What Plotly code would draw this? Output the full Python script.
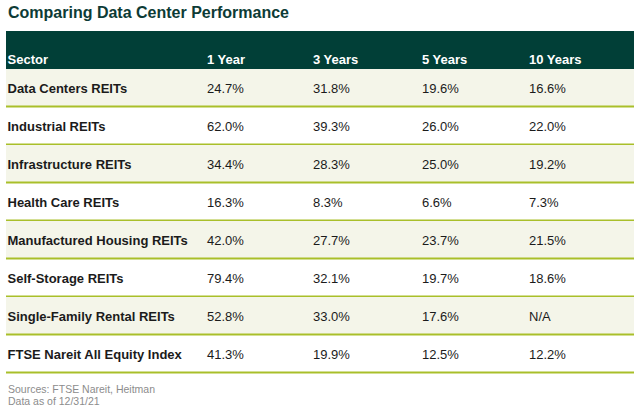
import plotly.graph_objects as go

# ---- data ----
title = "Comparing Data Center Performance"
headers = ["Sector", "1 Year", "3 Years", "5 Years", "10 Years"]
sectors = ["Data Centers REITs", "Industrial REITs", "Infrastructure REITs",
           "Health Care REITs", "Manufactured Housing REITs", "Self-Storage REITs",
           "Single-Family Rental REITs", "FTSE Nareit All Equity Index"]
one_year = [24.7, 62.0, 34.4, 16.3, 42.0, 79.4, 52.8, 41.3]
three_years = [31.8, 39.3, 28.3, 8.3, 27.7, 32.1, 33.0, 19.9]
five_years = [19.6, 26.0, 25.0, 6.6, 23.7, 19.7, 17.6, 12.5]
ten_years = [16.6, 22.0, 19.2, 7.3, 21.5, 18.6, None, 12.2]
notes = ["Sources: FTSE Nareit, Heitman", "Data as of 12/31/21"]

# ---- layout constants (axis units = window pixels) ----
W, H = 640, 411
col_x = [7.5, 207, 313, 422, 529]
left, right = 6, 634
head_top, head_bot = 31, 69
row_h = 38
TEXT_DY = 1.5
FONT = "Arial, Liberation Sans, sans-serif"
HEAD_BG = "#013f37"
CREAM = "#f4f5e9"
LINE = "#a9bf2a"
TXT = "#1b1b1b"

def fmt(v):
    return "N/A" if v is None else f"{v:.1f}%"

fig = go.Figure()
shapes = []
shapes.append(dict(type="rect", xref="x", yref="y", x0=left, x1=right,
                   y0=head_top, y1=head_bot, fillcolor=HEAD_BG, line_width=0, layer="below"))
row_centers = []
for i in range(len(sectors)):
    y0 = head_bot + i * row_h
    y1 = y0 + row_h
    row_centers.append((y0 + y1) / 2 + TEXT_DY)
    if i % 2 == 0:
        shapes.append(dict(type="rect", xref="x", yref="y", x0=left, x1=right,
                           y0=y0, y1=y1 - 0.5, fillcolor=CREAM, line_width=0, layer="below"))
    shapes.append(dict(type="line", xref="x", yref="y", x0=left, x1=right,
                       y0=y1 - 0.5, y1=y1 - 0.5, line=dict(color=LINE, width=2), layer="below"))

fig.add_trace(go.Scatter(x=col_x, y=[59.5 + TEXT_DY] * len(headers), text=headers, mode="text",
                         textposition="middle right", hoverinfo="skip",
                         textfont=dict(family=FONT, size=13, color="white", weight="bold")))
fig.add_trace(go.Scatter(x=[col_x[0]] * len(sectors), y=row_centers,
                         text=sectors, mode="text", textposition="middle right",
                         hoverinfo="skip",
                         textfont=dict(family=FONT, size=13, color=TXT, weight="bold")))
for cx, vals in zip(col_x[1:], [one_year, three_years, five_years, ten_years]):
    fig.add_trace(go.Scatter(x=[cx] * len(vals), y=row_centers,
                             text=[fmt(v) for v in vals], mode="text",
                             textposition="middle right", hoverinfo="skip",
                             textfont=dict(family=FONT, size=13, color=TXT)))

annotations = [
    dict(x=6, y=12.5, xref="x", yref="y", text=f"<b>{title}</b>", showarrow=False,
         xanchor="left", yanchor="middle",
         font=dict(family=FONT, size=16, color="#0d3b36")),
]
for k, t in enumerate(notes):
    annotations.append(dict(x=6, y=388.5 + 12.5 * k, xref="x", yref="y", text=t,
                            showarrow=False, xanchor="left", yanchor="middle",
                            font=dict(family=FONT, size=10.5, color="#8c8c8c")))

fig.update_layout(
    width=W, height=H, margin=dict(l=0, r=0, t=0, b=0),
    paper_bgcolor="white", plot_bgcolor="white", showlegend=False,
    xaxis=dict(range=[0, W], visible=False, fixedrange=True),
    yaxis=dict(range=[H, 0], visible=False, fixedrange=True),
    shapes=shapes, annotations=annotations,
)
fig.write_html("out.html", config={"displayModeBar": False},
               post_script="document.body.style.margin='0';document.body.style.overflow='hidden';")
